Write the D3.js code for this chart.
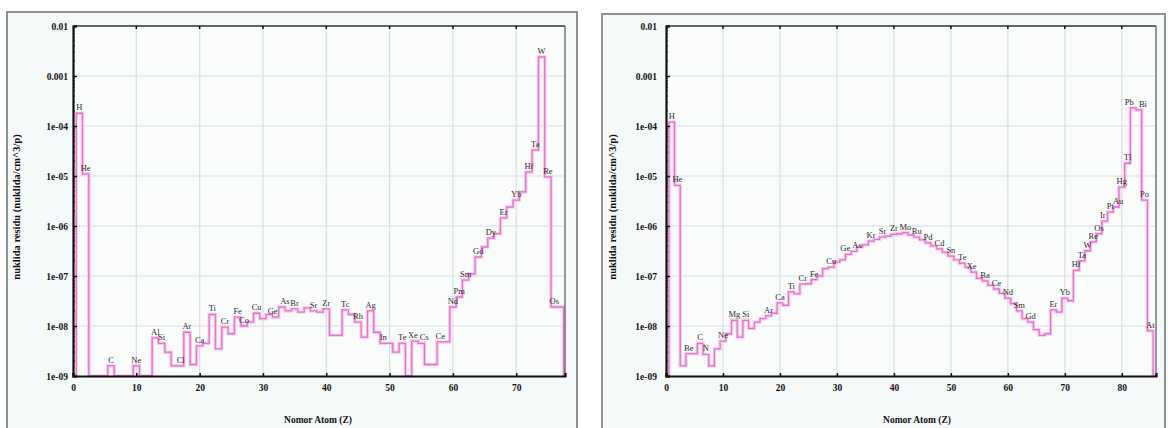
<!DOCTYPE html>
<html>
<head>
<meta charset="utf-8">
<script src="https://cdn.jsdelivr.net/npm/d3@7/dist/d3.min.js"></script>
<style>
  html, body { margin: 0; padding: 0; background: #fff; }
  svg { display: block; }
</style>
</head>
<body>
<svg id="chart" width="1168" height="428"></svg>
<script>
// element symbols, index = Z - 1
const symbols = ['H','He','Li','Be','B','C','N','O','F','Ne','Na','Mg','Al','Si','P','S','Cl','Ar','K','Ca',
  'Sc','Ti','V','Cr','Mn','Fe','Co','Ni','Cu','Zn','Ga','Ge','As','Se','Br','Kr','Rb','Sr','Y','Zr',
  'Nb','Mo','Tc','Ru','Rh','Pd','Ag','Cd','In','Sn','Sb','Te','I','Xe','Cs','Ba','La','Ce','Pr','Nd',
  'Pm','Sm','Eu','Gd','Tb','Dy','Ho','Er','Tm','Yb','Lu','Hf','Ta','W','Re','Os','Ir','Pt','Au','Hg',
  'Tl','Pb','Bi','Po','At'];

// W target, Z = 1..77 (0 = below axis)
const wValues = [1.8e-4, 1.1e-5, 0, 0, 0, 1.6e-9, 0, 0, 0, 1.6e-9,
  0, 0, 5.8e-9, 4.5e-9, 3e-9, 1.6e-9, 1.6e-9, 7.5e-9, 1.7e-9, 4e-9,
  4.5e-9, 1.7e-8, 3.5e-9, 9.5e-9, 7e-9, 1.5e-8, 1e-8, 1.2e-8, 1.8e-8, 1.4e-8,
  1.7e-8, 1.5e-8, 2.4e-8, 2e-8, 2.2e-8, 1.9e-8, 2.3e-8, 2e-8, 1.9e-8, 2.2e-8,
  6.5e-9, 6.5e-9, 2.1e-8, 1.7e-8, 1.2e-8, 6e-9, 2e-8, 7.5e-9, 4.5e-9, 4.5e-9,
  3e-9, 4.5e-9, 0, 5e-9, 4.5e-9, 1.7e-9, 1.7e-9, 4.8e-9, 4.8e-9, 2.4e-8,
  3.8e-8, 8.3e-8, 1.1e-7, 2.4e-7, 3.8e-7, 5.7e-7, 7e-7, 1.45e-6, 2.4e-6, 3.3e-6,
  4.8e-6, 1.2e-5, 3.3e-5, 2.4e-3, 9.6e-6, 2.4e-8, 2.4e-8];
const wLabels = ['H','He','C','Ne','Al','Si','Cl','Ar','Ca','Ti','Cr','Fe','Co','Cu','Ge','As','Br','Sr','Zr',
  'Tc','Rh','Ag','In','Te','Xe','Cs','Ce','Nd','Pm','Sm','Gd','Dy','Er','Yb','Hf','Ta','W','Re','Os'];

// Pb-Bi target, Z = 1..85
const pbbiValues = [1.2e-4, 6.5e-6, 1.6e-9, 2.8e-9, 2.8e-9, 4.5e-9, 2.7e-9, 1.6e-9, 3.5e-9, 5e-9,
  7e-9, 1.3e-8, 6e-9, 1.3e-8, 9e-9, 1.2e-8, 1.4e-8, 1.6e-8, 1.8e-8, 2.9e-8,
  2.6e-8, 4.8e-8, 4.4e-8, 6.9e-8, 7e-8, 8.5e-8, 1e-7, 1.4e-7, 1.5e-7, 1.9e-7,
  2.1e-7, 2.7e-7, 3.1e-7, 3.8e-7, 4.2e-7, 5e-7, 5.4e-7, 6e-7, 6.3e-7, 6.8e-7,
  7e-7, 7.4e-7, 6.6e-7, 6e-7, 5.3e-7, 4.6e-7, 4e-7, 3.5e-7, 3e-7, 2.5e-7,
  2.1e-7, 1.8e-7, 1.5e-7, 1.2e-7, 9e-8, 8e-8, 6.5e-8, 5.5e-8, 4.5e-8, 3.6e-8,
  2.8e-8, 2e-8, 1.4e-8, 1.2e-8, 8.5e-9, 6.5e-9, 7e-9, 2.1e-8, 1.9e-8, 3.6e-8,
  3.2e-8, 1.3e-7, 2e-7, 3.2e-7, 4.8e-7, 7e-7, 1.25e-6, 1.9e-6, 2.4e-6, 6e-6,
  1.8e-5, 2.3e-4, 2.1e-4, 3.3e-6, 8e-9];
const pbbiLabels = ['H','He','Be','C','N','Ne','Mg','Si','Ar','Ca','Ti','Cr','Fe','Cu','Ge','As','Kr',
  'Sr','Zr','Mo','Ru','Pd','Cd','Sn','Te','Xe','Ba','Ce','Nd','Sm','Gd','Er','Yb','Hf','Ta',
  'W','Re','Os','Ir','Pt','Au','Hg','Tl','Pb','Bi','Po','At'];

const xTicks = [0, 10, 20, 30, 40, 50, 60, 70, 80];
const yTicks = [1e-2, 1e-3, 1e-4, 1e-5, 1e-6, 1e-7, 1e-8, 1e-9];
const yTickLabels = ['0.01', '0.001', '1e-04', '1e-05', '1e-06', '1e-07', '1e-08', '1e-09'];
const xTitle = 'Nomor Atom (Z)';
const yTitle = 'nuklida residu (nuklida/cm^3/p)';

const svg = d3.select('#chart');
const FONT = '"Liberation Serif", "DejaVu Serif", serif';
// small nudges so neighbouring labels don't collide
const labelShift = { Pb: -4, Bi: 4, Ir: -2, Au: 2, Ge: -3, As: 3, Xe: -2, Cs: 3 };

function drawPanel(opt) {
  const g = svg.append('g');
  const floor = 1e-9;

  // outer frame
  g.append('rect')
    .attr('x', opt.frame.x).attr('y', opt.frame.y)
    .attr('width', opt.frame.w).attr('height', 440)
    .attr('fill', '#f6f9f9').attr('stroke', '#8d9393').attr('stroke-width', 2);

  const x = d3.scaleLinear().domain(opt.xDomain).range([opt.plot.x0, opt.plot.x1]);
  const y = d3.scaleLog().domain([1e-9, 1e-2]).range([opt.plot.y1, opt.plot.y0]);

  g.append('rect')
    .attr('x', opt.plot.x0).attr('y', opt.plot.y0)
    .attr('width', opt.plot.x1 - opt.plot.x0).attr('height', opt.plot.y1 - opt.plot.y0)
    .attr('fill', '#fafcfc');

  const xt = xTicks.filter(t => t <= opt.xDomain[1]);

  // grid
  g.append('g').selectAll('line')
    .data(xt.slice(1))
    .join('line')
    .attr('x1', d => x(d)).attr('x2', d => x(d))
    .attr('y1', opt.plot.y0).attr('y2', opt.plot.y1)
    .attr('stroke', '#d9dede').attr('stroke-width', 1.2);
  g.append('g').selectAll('line')
    .data(yTicks.slice(1, -1))
    .join('line')
    .attr('x1', opt.plot.x0).attr('x2', opt.plot.x1)
    .attr('y1', d => y(d)).attr('y2', d => y(d))
    .attr('stroke', '#d9dede').attr('stroke-width', 1.2);

  // step line
  const vals = opt.values;
  const pts = [[0.5, floor]];
  vals.forEach((v, i) => pts.push([i + 0.5, Math.max(v, floor)]));
  pts.push([vals.length + 0.5, Math.max(vals[vals.length - 1], floor)]);
  pts.push([vals.length + 0.5, floor]);
  const line = d3.line()
    .x(d => x(Math.min(d[0], opt.xDomain[1])))
    .y(d => y(d[1]))
    .curve(d3.curveStepAfter);

  g.append('path').datum(pts)
    .attr('d', line).attr('fill', 'none')
    .attr('stroke', '#f8cdec').attr('stroke-width', 3.5);
  g.append('path').datum(pts)
    .attr('d', line).attr('fill', 'none')
    .attr('stroke', '#e272cc').attr('stroke-width', 1.3);

  // element labels
  g.append('g').selectAll('text')
    .data(opt.labels)
    .join('text')
    .attr('x', s => x(symbols.indexOf(s) + 1) + (labelShift[s] || 0))
    .attr('y', s => y(Math.max(vals[symbols.indexOf(s)], floor)) - 3)
    .attr('text-anchor', 'middle')
    .attr('font-family', FONT)
    .attr('font-size', 8.5)
    .attr('fill', '#2b2b2b')
    .text(s => s);

  // borders
  g.append('line')
    .attr('x1', opt.plot.x0).attr('x2', opt.plot.x1)
    .attr('y1', opt.plot.y0).attr('y2', opt.plot.y0)
    .attr('stroke', '#333').attr('stroke-width', 1.6);
  g.append('line')
    .attr('x1', opt.plot.x1).attr('x2', opt.plot.x1)
    .attr('y1', opt.plot.y0).attr('y2', opt.plot.y1)
    .attr('stroke', '#555').attr('stroke-width', 1.2);

  // x axis
  const xAxis = g.append('g')
    .attr('transform', `translate(0,${opt.plot.y1})`)
    .call(d3.axisBottom(x).tickValues(xt).tickSize(-3).tickPadding(8).tickFormat(d3.format('d')));
  xAxis.select('.domain').attr('stroke', '#111').attr('stroke-width', 2.2);
  xAxis.selectAll('.tick line').attr('stroke', '#111').attr('stroke-width', 1.5);
  xAxis.selectAll('.tick text')
    .attr('font-family', FONT).attr('font-size', 9.5).attr('font-weight', 'bold').attr('fill', '#111');

  // top ticks
  g.append('g').selectAll('line')
    .data(xt.slice(1))
    .join('line')
    .attr('x1', d => x(d)).attr('x2', d => x(d))
    .attr('y1', opt.plot.y0).attr('y2', opt.plot.y0 + 3)
    .attr('stroke', '#111').attr('stroke-width', 1.5);

  // y axis with minor ticks
  const minor = [];
  for (let e = -9; e < -2; e++) for (let m = 2; m < 10; m++) minor.push(m * Math.pow(10, e));
  g.append('g').selectAll('line')
    .data(minor)
    .join('line')
    .attr('x1', opt.plot.x0).attr('x2', opt.plot.x0 + 2)
    .attr('y1', d => y(d)).attr('y2', d => y(d))
    .attr('stroke', '#222').attr('stroke-width', 1);

  const yAxis = g.append('g')
    .attr('transform', `translate(${opt.plot.x0},0)`)
    .call(d3.axisLeft(y).tickValues(yTicks).tickSize(-4).tickPadding(opt.yPad)
      .tickFormat((d, i) => yTickLabels[i]));
  yAxis.select('.domain').attr('stroke', '#111').attr('stroke-width', 2.2);
  yAxis.selectAll('.tick line').attr('stroke', '#111').attr('stroke-width', 1.5);
  yAxis.selectAll('.tick text')
    .attr('font-family', FONT).attr('font-size', 9.5).attr('font-weight', 'bold').attr('fill', '#111');

  // titles
  g.append('text')
    .attr('x', opt.xTitleX).attr('y', 423)
    .attr('text-anchor', 'middle')
    .attr('font-family', FONT).attr('font-size', 9.5).attr('font-weight', 'bold')
    .attr('fill', '#111')
    .text(xTitle);
  g.append('text')
    .attr('transform', `translate(${opt.yTitleX},207) rotate(-90)`)
    .attr('text-anchor', 'middle')
    .attr('font-family', FONT).attr('font-size', 10.5).attr('font-weight', 'bold')
    .attr('fill', '#111')
    .text(yTitle);
}

drawPanel({
  frame: { x: 7, y: 12, w: 570 },
  plot: { x0: 73, x1: 565, y0: 26, y1: 376 },
  xDomain: [0, 77.7],
  values: wValues,
  labels: wLabels,
  yPad: 5,
  xTitleX: 318,
  yTitleX: 20
});

drawPanel({
  frame: { x: 602, y: 14, w: 563 },
  plot: { x0: 666, x1: 1156, y0: 26, y1: 376 },
  xDomain: [0, 86],
  values: pbbiValues,
  labels: pbbiLabels,
  yPad: 9,
  xTitleX: 917,
  yTitleX: 616
});
</script>
</body>
</html>
